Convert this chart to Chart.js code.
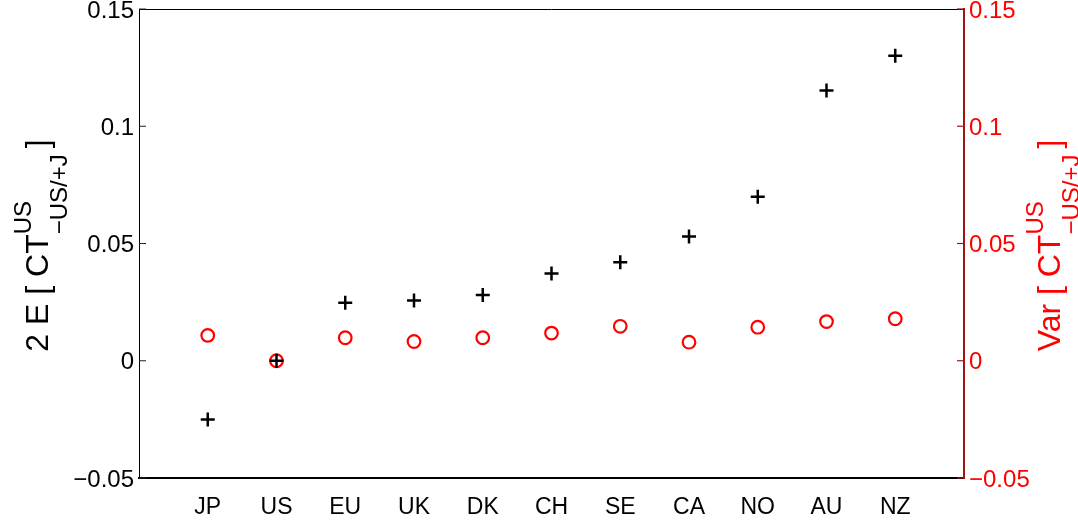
<!DOCTYPE html>
<html>
<head>
<meta charset="utf-8">
<script src="https://cdn.jsdelivr.net/npm/chart.js@4/dist/chart.umd.min.js"></script>
<style>
html,body{margin:0;padding:0;background:#fff;}
#wrap{width:1078px;height:524px;position:relative;}
</style>
</head>
<body>
<div id="wrap"><canvas id="c"></canvas></div>
<script>
const categories = ['JP','US','EU','UK','DK','CH','SE','CA','NO','AU','NZ'];
const meanValues = [-0.025, 0.0, 0.0247, 0.0257, 0.028, 0.0372, 0.042, 0.053, 0.0699, 0.1152, 0.1301];
const varValues  = [0.0108, 0.0, 0.0098, 0.0082, 0.0098, 0.0118, 0.0147, 0.0079, 0.0143, 0.0167, 0.0179];
const yTicks = [-0.05, 0, 0.05, 0.1, 0.15];

const FONT = '"Liberation Sans", Arial, Helvetica, sans-serif';
const RED = '#ff0000';
const DARKRED = '#a31515';

function fmt(v){
  const r = Math.round(v*100)/100;
  return String(r).replace('-', '\u2212');
}

const meanPts = categories.map((c,i)=>({x:i+1, y:meanValues[i]}));
const varPts = categories.map((c,i)=>({x:i+1, y:varValues[i]}));

function drawTitle(ctx, cy, baseX, color, main){
  ctx.save();
  ctx.fillStyle = color;
  ctx.translate(baseX, cy);
  ctx.rotate(-Math.PI/2);
  const mainFont = '32px ' + FONT;
  const subFont = '24px ' + FONT;
  ctx.font = mainFont;
  const wMain = ctx.measureText(main).width;
  const wBr = ctx.measureText(']').width;
  ctx.font = subFont;
  const wSup = ctx.measureText('US').width;
  const wSub = ctx.measureText('\u2212US/+J').width;
  const total = wMain + Math.max(wSup, wSub) + 6 + wBr;
  let x = -total/2;
  ctx.textBaseline = 'alphabetic';
  ctx.textAlign = 'left';
  ctx.font = mainFont;
  ctx.fillText(main, x, 0);
  x += wMain;
  ctx.font = subFont;
  ctx.fillText('US', x, -17);
  ctx.fillText('\u2212US/+J', x, 19);
  x += Math.max(wSup, wSub) + 6;
  ctx.font = mainFont;
  ctx.fillText(']', x, 0);
  ctx.restore();
}

const framePlugin = {
  id: 'frame',
  afterDraw(chart){
    const ctx = chart.ctx;
    const a = chart.chartArea;
    const y = chart.scales.y, y2 = chart.scales.y2;
    ctx.save();
    ctx.strokeStyle = '#000';
    ctx.lineWidth = 1;
    ctx.beginPath();
    ctx.moveTo(a.left, a.top + 0.5);
    ctx.lineTo(a.right, a.top + 0.5);
    ctx.stroke();
    yTicks.forEach(v=>{
      const py = y.getPixelForValue(v);
      ctx.strokeStyle = '#222';
      ctx.lineWidth = 1;
      ctx.beginPath();
      ctx.moveTo(a.left, py);
      ctx.lineTo(a.left + 7, py);
      ctx.stroke();
      const py2 = y2.getPixelForValue(v);
      ctx.strokeStyle = DARKRED;
      ctx.lineWidth = 1.2;
      ctx.beginPath();
      ctx.moveTo(a.right, py2);
      ctx.lineTo(a.right - 7, py2);
      ctx.stroke();
    });
    ctx.restore();
    const cy = (a.top + a.bottom)/2 + 2;
    drawTitle(ctx, cy, 48, '#000', '2 E [ CT');
    drawTitle(ctx, cy, 1060, RED, 'Var [ CT');
  }
};

function fitY(w){
  return function(scale){
    scale.width = w;
    scale.paddingTop = 0;
    scale.paddingBottom = 0;
  };
}

new Chart(document.getElementById('c'), {
  type: 'scatter',
  data: {
    datasets: [
      {
        label: 'mean',
        data: meanPts,
        yAxisID: 'y',
        pointStyle: 'cross',
        pointRadius: 7,
        pointHoverRadius: 7,
        borderColor: '#000',
        backgroundColor: '#000',
        pointBorderWidth: 2.5,
        borderWidth: 2.5,
        showLine: false
      },
      {
        label: 'var',
        data: varPts,
        yAxisID: 'y2',
        pointStyle: 'circle',
        pointRadius: 6.3,
        pointHoverRadius: 6.3,
        borderColor: RED,
        backgroundColor: 'rgba(0,0,0,0)',
        pointBorderWidth: 2.2,
        borderWidth: 2.2,
        showLine: false
      }
    ]
  },
  options: {
    responsive: true,
    maintainAspectRatio: false,
    animation: false,
    events: [],
    layout: { padding: { top: 9, bottom: 0, left: 0, right: 0 }, autoPadding: false },
    plugins: { legend: { display: false }, tooltip: { enabled: false } },
    scales: {
      x: {
        type: 'linear',
        position: 'bottom',
        min: 0, max: 12,
        afterBuildTicks(scale){
          scale.ticks = categories.map((c,i)=>({value:i+1}));
        },
        afterFit(scale){ scale.height = 46; scale.paddingLeft = 0; scale.paddingRight = 0; },
        ticks: {
          autoSkip: false,
          maxRotation: 0,
          padding: 16,
          color: '#000',
          font: { family: FONT, size: 23 },
          callback: (v)=> categories[v-1] || ''
        },
        grid: { display: true, drawOnChartArea: false, drawTicks: false },
        border: { display: true, color: '#000', width: 2 }
      },
      y: {
        type: 'linear',
        position: 'left',
        min: -0.05, max: 0.15,
        afterBuildTicks(scale){ scale.ticks = yTicks.map(v=>({value:v})); },
        afterFit: fitY(139),
        ticks: {
          padding: 5,
          labelOffset: 2,
          color: '#000',
          font: { family: FONT, size: 24 },
          callback: (v)=> fmt(v)
        },
        grid: { display: true, drawOnChartArea: false, drawTicks: false },
        border: { display: true, color: '#000', width: 1 }
      },
      y2: {
        type: 'linear',
        position: 'right',
        min: -0.05, max: 0.15,
        afterBuildTicks(scale){ scale.ticks = yTicks.map(v=>({value:v})); },
        afterFit: fitY(114),
        ticks: {
          padding: 5,
          labelOffset: 2,
          color: RED,
          font: { family: FONT, size: 24 },
          callback: (v)=> fmt(v)
        },
        grid: { display: true, drawOnChartArea: false, drawTicks: false },
        border: { display: true, color: DARKRED, width: 2 }
      }
    }
  },
  plugins: [framePlugin]
});
</script>
</body>
</html>
